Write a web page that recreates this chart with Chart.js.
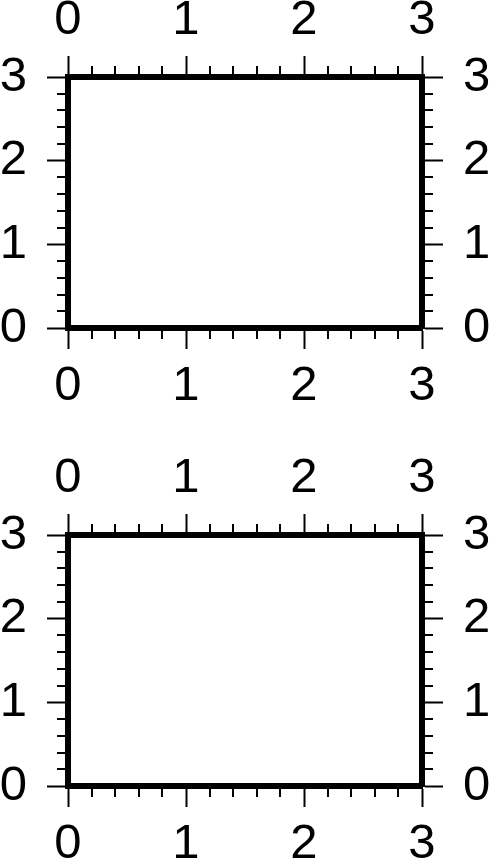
<!DOCTYPE html>
<html>
<head>
<meta charset="utf-8">
<script src="https://cdn.jsdelivr.net/npm/chart.js@4/dist/chart.umd.min.js"></script>
<style>
    html, body { margin: 0; padding: 0; background: #fff; overflow: hidden; }
    .panel { position: absolute; left: 0; }
    #panel-top { top: 0; }
    #panel-bottom { top: 458px; }
</style>
</head>
<body>
<canvas id="panel-top" class="panel" width="490" height="407"></canvas>
<canvas id="panel-bottom" class="panel" width="490" height="407"></canvas>
<script>
// axis range and annotations (same for both frames)
const xRange = [0, 3];
const yRange = [0, 3];
const majorTicks = [0, 1, 2, 3];
const tickLabels = ['0', '1', '2', '3'];
const minorTicks = [0.2, 0.4, 0.6, 0.8, 1.2, 1.4, 1.6, 1.8, 2.2, 2.4, 2.6, 2.8];

const FONT = { family: "'Liberation Sans', Arial, Helvetica, sans-serif", size: 49 };
const MAJOR_LEN = 21;
const MINOR_LEN = 11;

// short ticks between the annotated ones, placed with each scale's own pixel mapping
const minorTickPlugin = {
    id: 'minorTicks',
    afterDraw(chart) {
        const ctx = chart.ctx;
        ctx.save();
        ctx.strokeStyle = '#000';
        ctx.lineWidth = 2;
        Object.values(chart.scales).forEach(scale => {
            minorTicks.forEach(v => {
                const p = Math.round(scale.getPixelForValue(v));
                ctx.beginPath();
                if (scale.position === 'bottom') {
                    ctx.moveTo(p, scale.top);
                    ctx.lineTo(p, scale.top + MINOR_LEN);
                } else if (scale.position === 'top') {
                    ctx.moveTo(p, scale.bottom);
                    ctx.lineTo(p, scale.bottom - MINOR_LEN);
                } else if (scale.position === 'left') {
                    ctx.moveTo(scale.right, p);
                    ctx.lineTo(scale.right - MINOR_LEN, p);
                } else {
                    ctx.moveTo(scale.left, p);
                    ctx.lineTo(scale.left + MINOR_LEN, p);
                }
                ctx.stroke();
            });
        });
        ctx.restore();
    }
};

function axis(position, range, size, padding) {
    const horizontal = position === 'top' || position === 'bottom';
    return {
        type: 'linear',
        position: position,
        min: range[0],
        max: range[1],
        afterBuildTicks: scale => {
            scale.ticks = majorTicks.map(v => ({ value: v }));
        },
        afterFit: scale => {
            if (horizontal) scale.height = size;
            else scale.width = size;
        },
        border: { display: true, color: '#000', width: 6 },
        grid: {
            drawOnChartArea: false,
            drawTicks: true,
            tickLength: MAJOR_LEN,
            tickWidth: 2,
            tickColor: '#000'
        },
        ticks: {
            color: '#000',
            font: FONT,
            padding: padding,
            autoSkip: false,
            maxRotation: 0,
            minRotation: 0,
            callback: (value, index) => tickLabels[majorTicks.indexOf(value)]
        }
    };
}

function makePanel(id) {
    const canvas = document.getElementById(id);
    return new Chart(canvas.getContext('2d'), {
        type: 'scatter',
        data: { datasets: [{ data: [] }] },
        options: {
            responsive: false,
            animation: false,
            layout: { padding: 0 },
            plugins: { legend: { display: false }, tooltip: { enabled: false } },
            scales: {
                x: axis('bottom', xRange, canvas.height - 328, 8),
                x2: axis('top', xRange, 77, 6),
                y: axis('left', yRange, 68, 20),
                y2: axis('right', yRange, 68, 20)
            }
        },
        plugins: [minorTickPlugin]
    });
}

makePanel('panel-top');
makePanel('panel-bottom');
</script>
</body>
</html>
